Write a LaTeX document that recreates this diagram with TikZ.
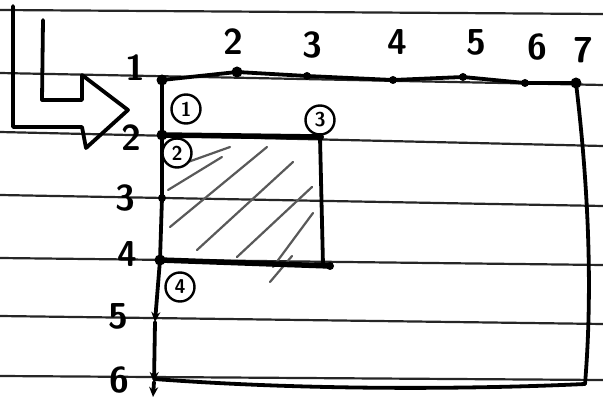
\documentclass[tikz,border=0pt]{standalone}
\usetikzlibrary{arrows.meta}
\begin{document}
\begin{tikzpicture}[x=1pt,y=-1pt,
  ruled/.style={line width=2.2pt, black!85},
  pen/.style={line width=3.8pt, line cap=round, line join=round},
  heavypen/.style={line width=5.5pt, line cap=round, line join=round},
  hatch/.style={line width=2.2pt, black!65, line cap=round},
  bigdot/.style={circle, fill=black, inner sep=0pt, minimum size=11pt},
  smalldot/.style={circle, fill=black, inner sep=0pt, minimum size=8pt},
  lab/.style={font=\fontsize{36}{36}\selectfont\sffamily\bfseries, inner sep=0pt},
  circ/.style={draw, circle, line width=2.4pt, inner sep=0pt, minimum size=29pt, font=\fontsize{20}{20}\selectfont\sffamily\bfseries}
]
\useasboundingbox (0,0) rectangle (603,406);
\fill[white] (0,0) rectangle (603,406);

% ruled paper lines
\draw[ruled] (0,10) -- (603,14);
\draw[ruled] (0,73) -- (603,85);
\draw[ruled] (0,132) -- (603,146);
\draw[ruled] (0,195) -- (603,206);
\draw[ruled] (0,258) -- (603,265);
\draw[ruled] (0,316) -- (603,324);
\draw[ruled] (0,376) -- (603,380);

% big outlined L-arrow
\draw[pen] (13,6) -- (13,127) -- (82,127) -- (86,148) -- (128,110) -- (82,75) -- (82,100) -- (42,100) -- (43,20);

% axis points
\coordinate (o) at (162,80);
\coordinate (x2) at (237,72);
\coordinate (x3) at (307,76);
\coordinate (x4) at (393,80);
\coordinate (x5) at (463,77);
\coordinate (x6) at (525,83);
\coordinate (x7) at (576,83);
\coordinate (y2) at (162,135);
\coordinate (y3) at (162,198);
\coordinate (y4) at (160,260);
\coordinate (y5) at (155,322);
\coordinate (y6) at (154,382);
\coordinate (yend) at (153,397);
\coordinate (r3) at (320,137);
\coordinate (r4) at (323,265);
\coordinate (r4b) at (330,266);
\coordinate (br) at (585,384);
\coordinate (bl) at (154,379);

% top axis / big rectangle top edge
\draw[pen] (o) -- (x2) -- (x3) -- (x4) -- (x5) -- (x6) -- (x7);
% big rectangle right and bottom
\draw[pen] (x7) .. controls (590,200) and (592,300) .. (br);
\draw[pen] (br) .. controls (500,388) and (330,392) .. (bl);

% left axis
\draw[pen] (o) -- (y2) -- (y3) -- (y4);
\draw[pen, -{Stealth[length=10pt,width=9pt]}] (y4) -- (y5);
\draw[pen, -{Stealth[length=10pt,width=9pt]}] (y5) -- (y6);
\draw[pen, -{Stealth[length=10pt,width=9pt]}] (y6) -- (yend);

% hatched small rectangle
\draw[hatch] (188,162) -- (230,147);
\draw[hatch] (168,190) -- (222,157);
\draw[hatch] (170,227) -- (267,147);
\draw[hatch] (197,250) -- (293,162);
\draw[hatch] (237,257) -- (312,187);
\draw[hatch] (273,267) -- (313,213);
\draw[hatch] (270,282) -- (292,256);
\draw[heavypen] (y2) -- (r3);
\draw[pen] (r3) -- (r4);
\draw[heavypen] (y4) -- (r4b);

% dots
\node[bigdot] at (o) {};
\node[bigdot] at (x2) {};
\node[smalldot] at (x3) {};
\node[smalldot] at (x4) {};
\node[smalldot] at (x5) {};
\node[smalldot] at (x6) {};
\node[bigdot] at (x7) {};
\node[bigdot] at (y2) {};
\node[smalldot] at (y3) {};
\node[bigdot] at (y4) {};
\node[smalldot] at (r3) {};
\node[smalldot] at (r4b) {};

% axis labels
\node[lab] (l1) at (135,68) {1};
\node[lab] (t2) at (233,42) {2};
\node[lab] (t3) at (312,45) {3};
\node[lab] (t4) at (397,42) {4};
\node[lab] (t5) at (476,42) {5};
\node[lab] (t6) at (537,47) {6};
\node[lab] (t7) at (583,50) {7};
\node[lab] (s2) at (131,138) {2};
\node[lab] (s3) at (125,198) {3};
\node[lab] (s4) at (127,254) {4};
\node[lab] (s5) at (118,316) {5};
\node[lab] (s6) at (119,380) {6};

% circled numbers
\node[circ] (c1) at (186,109) {1};
\node[circ, fill=white] (c2) at (177,153) {2};
\node[circ] (c3) at (320,120) {3};
\node[circ] (c4) at (180,287) {4};
\end{tikzpicture}
\end{document}
